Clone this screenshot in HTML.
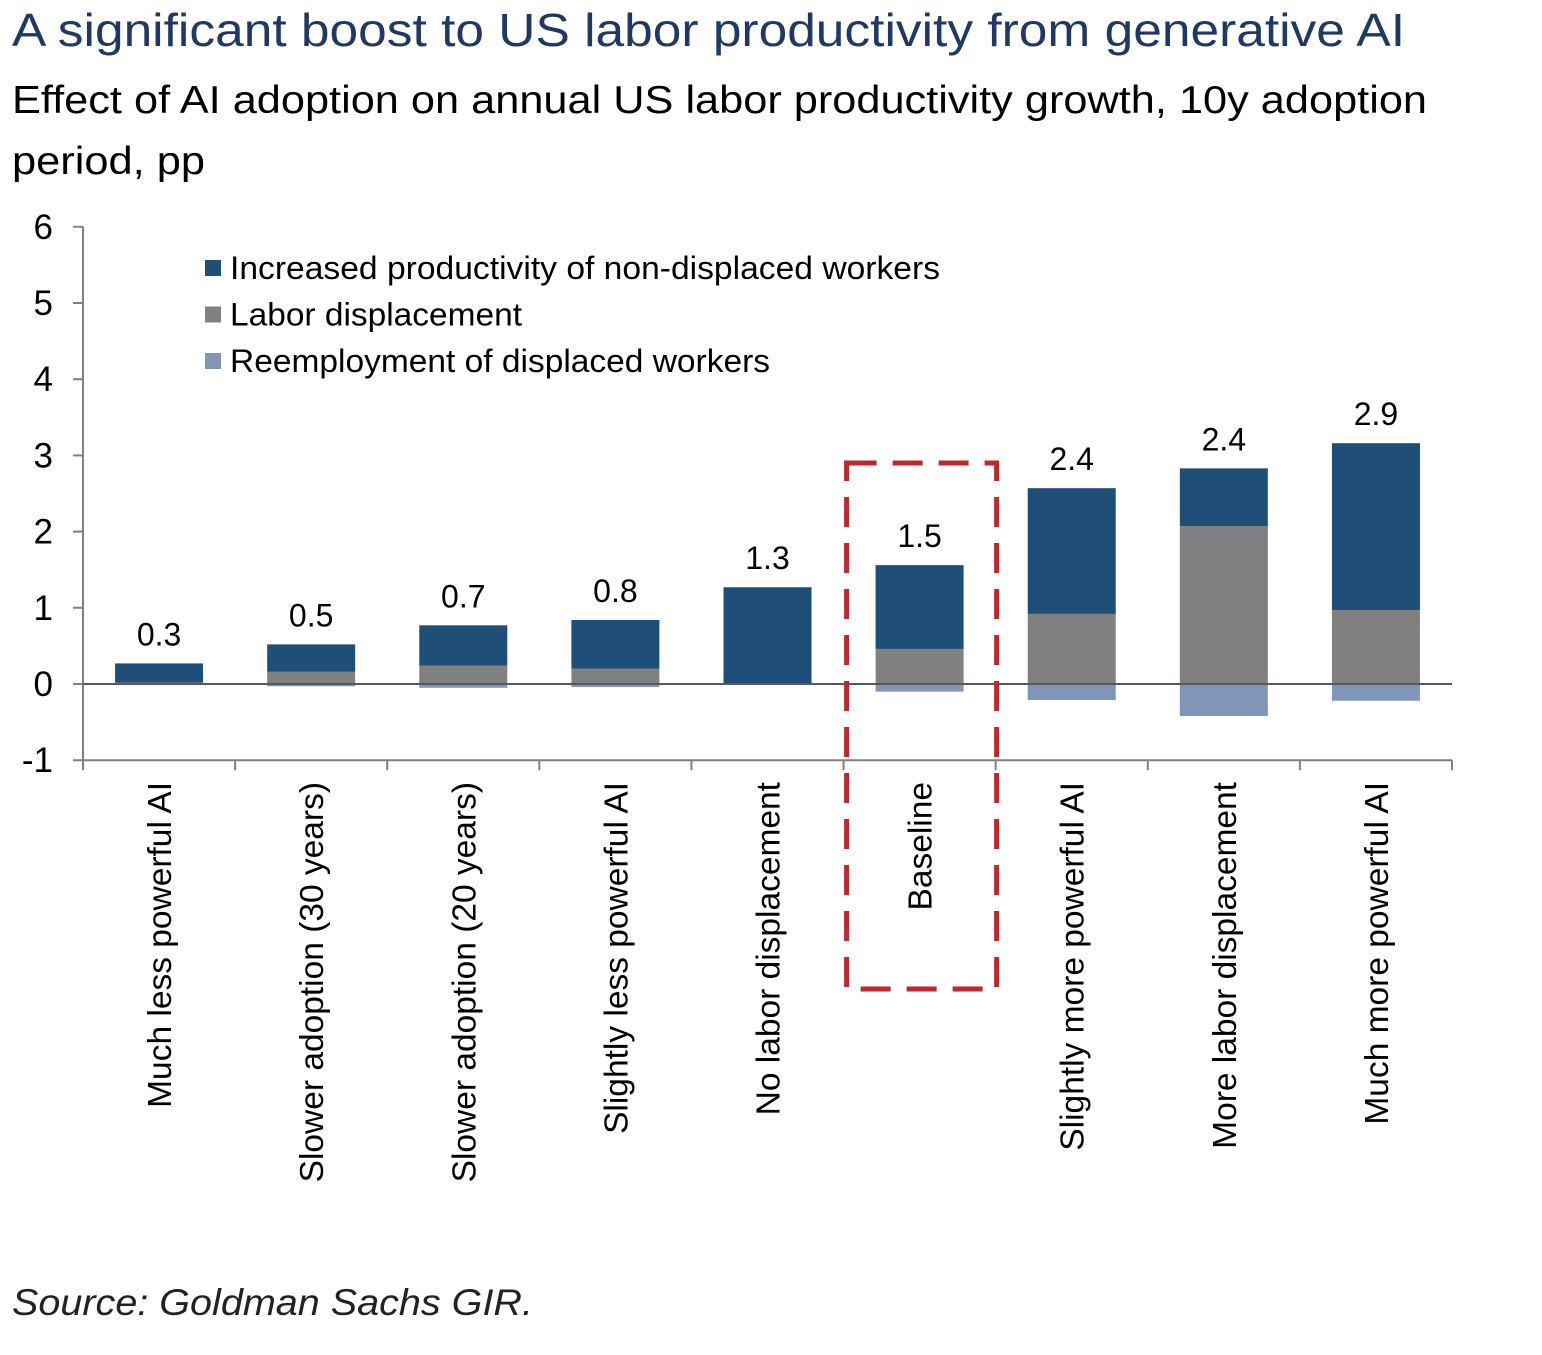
<!DOCTYPE html>
<html><head><meta charset="utf-8"><style>
body{margin:0;background:#fff;width:1542px;height:1350px;overflow:hidden;font-family:"Liberation Sans",sans-serif}
svg text{font-family:"Liberation Sans",sans-serif}
</style></head><body>
<svg width="1542" height="1350">
<text x="12" y="46" font-size="46" fill="#1F3864" textLength="1393" lengthAdjust="spacingAndGlyphs">A significant boost to US labor productivity from generative AI</text>
<text x="12" y="113" font-size="39" fill="#000" textLength="1415" lengthAdjust="spacingAndGlyphs">Effect of AI adoption on annual US labor productivity growth, 10y adoption</text>
<text x="12" y="174" font-size="39" fill="#000" textLength="193" lengthAdjust="spacingAndGlyphs">period, pp</text>
<g id="plot"></g>
<text x="12" y="1315" font-size="37" font-style="italic" fill="#222" textLength="521" lengthAdjust="spacingAndGlyphs">Source: Goldman Sachs GIR.</text>
</svg>
<script>
const categories=["Much less powerful AI","Slower adoption (30 years)","Slower adoption (20 years)","Slightly less powerful AI","No labor displacement","Baseline","Slightly more powerful AI","More labor displacement","Much more powerful AI"];
const productivity=[0.25,0.36,0.53,0.64,1.27,1.10,1.65,0.76,2.19];
const displacement=[0.02,0.16,0.24,0.20,0.0,0.46,0.92,2.07,0.97];
const reemployment=[-0.01,-0.03,-0.05,-0.04,-0.01,-0.10,-0.21,-0.42,-0.22];
const totals=["0.3","0.5","0.7","0.8","1.3","1.5","2.4","2.4","2.9"];
const yTicks=[-1,0,1,2,3,4,5,6];
const NS="http://www.w3.org/2000/svg";
const g=document.getElementById('plot');
const L=83,R=1452,slot=(R-L)/categories.length,bw=88;
const y=v=>684-v*76.2;
const xc=i=>L+slot*(i+0.5);
function mk(t,a){const e=document.createElementNS(NS,t);for(const k in a)e.setAttribute(k,a[k]);g.appendChild(e);return e;}
let ax=mk('line',{x1:L,y1:y(6),x2:L,y2:y(-1),stroke:'#808080','stroke-width':2});


yTicks.forEach(t=>{
 const tk=mk('line',{x1:L-10,x2:L,y1:y(t),y2:y(t),stroke:'#808080','stroke-width':2});
 
 
 const tx=mk('text',{x:L-30,y:y(t)+12,'font-size':35,'text-anchor':'end'});tx.textContent=t;
 
 
});
let bx=mk('line',{x1:L,y1:y(-1),x2:R,y2:y(-1),stroke:'#808080','stroke-width':2});


for(let i=0;i<=categories.length;i++){
 const tk=mk('line',{x1:L+slot*i,x2:L+slot*i,y1:y(-1),y2:y(-1)+10,stroke:'#808080','stroke-width':2});
 
 
}
categories.forEach((c,i)=>{
 const x0=xc(i)-bw/2;
 const r1=mk('rect',{x:x0,y:y(displacement[i]),width:bw,height:y(0)-y(displacement[i]),fill:'#808080'});
 
 
 const top=displacement[i]+productivity[i];
 const r2=mk('rect',{x:x0,y:y(top),width:bw,height:y(displacement[i])-y(top),fill:'#1F4E79'});
 
 
 const r3=mk('rect',{x:x0,y:y(0),width:bw,height:y(reemployment[i])-y(0),fill:'#7F96B8'});
 
 
 const lb=mk('text',{x:xc(i),y:y(top)-18,'font-size':32,'text-anchor':'middle'});lb.textContent=totals[i];
 
 
 const cl=mk('text',{x:0,y:0,'font-size':33.5,'text-anchor':'end',transform:`translate(${xc(i)+12},782) rotate(-90)`});cl.textContent=c;
 
 
});
let zl=mk('line',{x1:L,y1:y(0),x2:R,y2:y(0),stroke:'#595959','stroke-width':2});


const bi=categories.indexOf('Baseline');
let box=mk('rect',{x:xc(bi)-73,y:463,width:150,height:526,fill:'none',stroke:'#C0272D','stroke-width':5,'stroke-dasharray':'30 16'});


[["Increased productivity of non-displaced workers","#1F4E79",710],["Labor displacement","#808080",292],["Reemployment of displaced workers","#7F96B8",540]].forEach((l,k)=>{
 const yy=268+k*46.5;
 const sq=mk('rect',{x:205,y:yy-8,width:16,height:16,fill:l[1]});
 
 
 const t=mk('text',{x:230,y:yy+11,'font-size':32,textLength:l[2],lengthAdjust:'spacingAndGlyphs'});t.textContent=l[0];
 
 
});
</script>
</body></html>
